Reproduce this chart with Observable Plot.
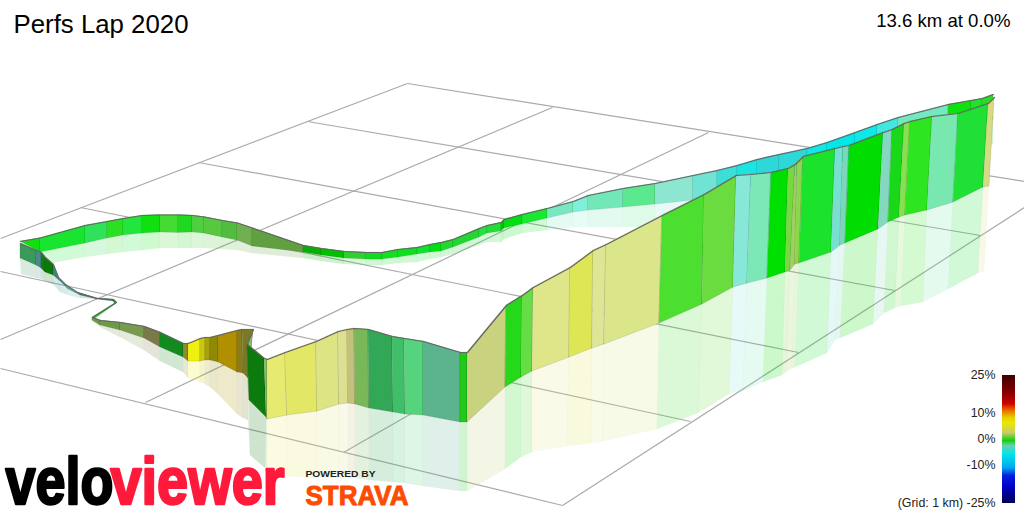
<!DOCTYPE html>
<html>
<head>
<meta charset="utf-8">
<script src="https://cdn.jsdelivr.net/npm/d3@7"></script>
<script src="https://cdn.jsdelivr.net/npm/@observablehq/plot@0.6"></script>
<style>html,body{margin:0;padding:0;background:#fff}svg{display:block}</style>
</head>
<body>
<div id="chart"></div>
<script>
// Grid lines as seen in the picture
const gridX1 = [407, 307, 198, 80, 0, 0, 0, 0, 145, 343, 562];
const gridY1 = [83, 121, 162, 207, 271, 368, 238, 339, 402, 452, 505];
const gridX2 = [1024, 980, 894, 798, 690, 562, 407, 552, 708, 860, 1024];
const gridY2 = [181, 235, 290, 352, 421, 505, 83, 107, 132, 156, 207];

// Far ribbon of the route
const backX = [20, 40, 85, 107, 123, 142, 160, 178, 192, 204, 222, 237, 252, 303, 321, 344, 366, 382, 398, 417, 430, 441, 453, 479, 487, 501, 504, 522, 547, 573, 588, 623, 655, 693, 717, 737, 757, 779, 807, 827, 855, 877, 898, 948, 971, 982, 993];
const backTop = [241, 237.5, 225, 221, 218, 215, 214.5, 214.5, 215, 216.5, 220, 222.5, 227.5, 245, 248, 251, 252, 252, 249, 247, 244, 242, 239, 228, 225, 222, 219, 214, 208, 201, 195, 188, 183, 175, 170, 165, 159, 154, 148, 142, 132, 124, 117, 104, 100, 98, 94];
const backBase = [241, 252, 243, 238, 235, 233, 232, 232.5, 232, 233, 237, 240, 246, 252, 255, 258, 259, 259, 257, 254, 252, 251, 247, 237, 233, 231, 228, 224, 218, 212, 210, 207, 204, 200, 195, 190, 184, 179, 173, 167, 157, 149, 142, 129, 125, 123, 119];
const backShade = [241, 265, 257, 254, 252, 250, 248, 248, 248, 248, 249, 250, 253, 258, 261, 264, 265, 265, 263, 262, 259, 257, 254, 245, 242, 242, 239, 233, 230, 227, 227, 227, 227, 226, 222, 215, 209, 204, 198, 192, 182, 174, 167, 154, 150, 148, 144];
const backColors = ["#10e010", "#18e530", "#30e25a", "#2ae020", "#22e63e", "#10e010", "#44dc33", "#20d820", "#4cd040", "#58c840", "#50bc40", "#70b050", "#60a040", "#04b004", "#00c000", "#30d030", "#10dd20", "#10e020", "#0ee020", "#10e030", "#00e010", "#20d830", "#20d830", "#25e040", "#22dd33", "#00c800", "#00e010", "#18e830", "#78e8c0", "#80efd8", "#72e8b8", "#5ce890", "#8ce6d0", "#70e3d5", "#3ae0d8", "#1de3e3", "#2fd8d8", "#2dd8d8", "#0de8e8", "#00e8e8", "#10e8e8", "#40e8e0", "#75e8c0", "#0fe00f", "#25e030", "#25dd25"];

// Near wall of the route
const wallTopX = [20, 36, 41, 45, 53, 58, 65, 77, 97, 113, 116, 92, 100, 120, 144, 160, 183, 188, 200, 205, 210, 218, 237, 242, 253, 247, 264, 267, 285, 316, 338, 347, 354, 368, 392, 404, 423, 460, 467, 506, 522, 533, 570, 593, 606, 662, 704, 736, 751, 771, 788, 795, 797, 803, 835, 843, 849, 883, 892, 904, 910, 932, 958, 988, 994];
const wallTopY = [243, 250, 252, 257, 264, 277, 284, 292, 298, 299, 302, 317, 320, 322, 326, 332, 343, 343, 338, 337, 337, 335, 330, 329, 329, 344, 358, 359, 352, 341, 331, 329, 328, 329, 336, 338, 341, 352, 352, 305, 295, 287, 267, 250, 244, 215, 194, 175, 174, 172, 168, 164, 162, 156, 148, 146, 145, 132, 129, 123, 121, 116, 113, 103, 97];
const wallBaseX = [20, 36, 41, 45, 53, 60, 68, 80, 97, 113, 115, 92, 100, 120, 144, 160, 183, 188, 200, 205, 210, 218, 237, 243, 248, 249, 266, 267, 287, 317, 339, 348, 355, 369, 393, 405, 423, 460, 467, 505, 521, 532, 569, 592, 604, 659, 702, 733, 747, 767, 785, 790, 795, 799, 831, 840, 845, 878, 888, 899, 905, 927, 953, 983, 989];
const wallBaseY = [258, 265, 268, 272, 275, 281, 289, 295, 299, 301, 304, 320, 325, 330, 338, 347, 357, 361, 361, 360, 360, 362, 372, 373, 378, 400, 417, 419, 415, 411, 404, 403, 404, 408, 412, 414, 415, 422, 422, 387, 377, 371, 357, 348, 344, 323, 304, 287, 283, 278, 272, 270, 264, 263, 252, 245, 243, 229, 222, 217, 215, 210, 202, 187, 186];
const shadeX = [21, 37, 41, 46, 54, 60, 68, 80, 97, 113, 115, 92, 100, 120, 144, 160, 183, 188, 200, 205, 210, 218, 237, 243, 248, 250, 265, 267, 287, 317, 339, 348, 355, 369, 393, 405, 423, 460, 467, 505, 521, 532, 567, 591, 603, 657, 698, 729, 743, 763, 782, 786, 792, 795, 827, 835, 840, 873, 884, 895, 901, 923, 948, 978, 984];
const shadeY = [274, 278, 279, 281, 285, 292, 295, 298, 299, 301, 304, 321, 327, 337, 350, 361, 372, 378, 382, 384, 387, 394, 414, 418, 420, 455, 468, 470, 476, 478, 478, 478, 478, 480, 482, 483, 486, 491, 491, 469, 457, 452, 446, 443, 441, 429, 413, 394, 391, 382, 375, 372, 368, 367, 353, 340, 338, 324, 313, 308, 306, 302, 289, 273, 271];
const wallColors = ["#3a9a5a", "#4a8a8a", "#0f7f0f", "#0a7a0a", "#308a80", "#30a0a0", "#55b0b0", "#3a7a5a", "#3a7a5a", "#228b22", "#20d020", "#6a9a50", "#6f9a45", "#7a9a50", "#7a7a48", "#128a20", "#8f8a30", "#f0f010", "#c8c810", "#a8a010", "#8f8a05", "#b09000", "#8a7d1a", "#7a7a25", "#8cc060", "#0c7a0c", "#88c060", "#e6ea70", "#e2e866", "#dde482", "#dde090", "#c5c07a", "#78b858", "#32a755", "#3ebf68", "#55d47d", "#5cb48f", "#22c81a", "#c9d37f", "#25d81a", "#66dd44", "#dfe68a", "#dfe656", "#dde695", "#dbe68a", "#4cdf30", "#6bdc40", "#88e8d8", "#7ce8b8", "#00e000", "#78d840", "#a0d060", "#8cd84c", "#1be32b", "#78e0d0", "#78d8b8", "#00dd00", "#85d8c0", "#18d818", "#88e050", "#2de61f", "#78e8b0", "#20e035", "#d5db80"];

// Gradient legend
const rampY = [375, 393, 403, 410, 417, 422, 432, 440, 445, 453, 467, 475, 487, 503];
const rampColors = ["#400000", "#8b0000", "#d00000", "#e87000", "#e8d000", "#e8e800", "#cccc66", "#10d010", "#6cccb0", "#00e8e8", "#00a8f0", "#0020e0", "#0000c0", "#000050"];
const legendLabels = ["25%", "10%", "0%", "-10%", "(Grid: 1 km) -25%"];
const legendLabelY = [375, 413, 439, 465, 503];

const strips = (n, colors, x1, y1, x2, y2) => {
  const rows = [];
  for (let i = 0; i < n - 1; i++) {
    for (const j of [i, i + 1]) {
      rows.push({seg: i, c: colors[i], x1: x1(j), y1: y1(j), x2: x2(j), y2: y2(j)});
    }
  }
  return rows;
};
const backShadeRows = strips(backX.length, backColors, i => backX[i], i => backBase[i], i => backX[i], i => backShade[i]);
const backRows = strips(backX.length, backColors, i => backX[i], i => backTop[i], i => backX[i], i => backBase[i]);
const wallShadeRows = strips(wallTopX.length, wallColors, i => wallBaseX[i], i => wallBaseY[i], i => shadeX[i], i => shadeY[i]);
const wallRows = strips(wallTopX.length, wallColors, i => wallTopX[i], i => wallTopY[i], i => wallBaseX[i], i => wallBaseY[i]);

const area = (rows, fillOpacity, strokeOpacity) => Plot.area(rows, {
  x1: "x1", y1: "y1", x2: "x2", y2: "y2", z: "seg",
  fill: {value: "c", scale: null}, fillOpacity,
  stroke: "#000", strokeOpacity, strokeWidth: 0.8
});
const idx = a => a.map((_, i) => i);
const label = (text, x, y, opts) => Plot.text([text], {x: () => x, y: () => y, text: d => d, lineAnchor: "middle", fontFamily: "Liberation Sans", ...opts});

const svg = Plot.plot({
  width: 1024, height: 512,
  marginTop: 0, marginRight: 0, marginBottom: 0, marginLeft: 0,
  x: {domain: [0, 1024], range: [0, 1024], axis: null},
  y: {domain: [0, 512], range: [0, 512], axis: null},
  color: {type: "linear", domain: rampY, range: rampColors, legend: false},
  style: {background: "#fff"},
  marks: [
    Plot.link(idx(gridX1), {
      x1: i => gridX1[i], y1: i => gridY1[i], x2: i => gridX2[i], y2: i => gridY2[i],
      stroke: "#aaa", strokeWidth: 1.2
    }),
    area(backShadeRows, 0.2, 0.02),
    area(wallShadeRows, 0.2, 0.02),
    area(backRows, 1, 0.1),
    Plot.line(idx(backX), {x: i => backX[i], y: i => backTop[i], stroke: "#666", strokeWidth: 1.2}),
    area(wallRows, 1, 0.13),
    Plot.line(idx(wallTopX), {x: i => wallTopX[i], y: i => wallTopY[i], stroke: "#666", strokeWidth: 1.2}),
    Plot.rect(d3.range(375, 503), {
      x1: () => 1002, x2: () => 1015, y1: d => d, y2: d => d + 1,
      fill: d => d, shapeRendering: "crispEdges"
    }),
    Plot.text(legendLabels, {
      x: () => 995, y: (d, i) => legendLabelY[i], text: d => d,
      textAnchor: "end", lineAnchor: "middle", fontSize: 12.4, fill: "#222", fontFamily: "Liberation Sans"
    }),
    label("Perfs Lap 2020", 13, 24, {textAnchor: "start", fontSize: 25.8, fill: "#000"}),
    label("13.6 km at 0.0%", 1010, 21, {textAnchor: "end", fontSize: 18.6, fill: "#000"}),
    label("velo", 5, 503, {textAnchor: "start", lineAnchor: "bottom", fontSize: 66, fontWeight: 700, fill: "#000", stroke: "#000", strokeWidth: 2.5}),
    label("viewer", 110, 503, {textAnchor: "start", lineAnchor: "bottom", fontSize: 66, fontWeight: 700, fill: "#ff1a3c", stroke: "#ff1a3c", strokeWidth: 2.5}),
    label("POWERED BY", 305, 473, {textAnchor: "start", fontSize: 9.5, fontWeight: 700, fill: "#222"}),
    label("STRAVA", 305, 504, {textAnchor: "start", lineAnchor: "bottom", fontSize: 28, fontWeight: 700, fill: "#fc4c02", stroke: "#fc4c02", strokeWidth: 1})
  ]
});
const fit = (content, len) => d3.select(svg).selectAll("text")
  .filter(function () { return this.textContent === content; })
  .attr("textLength", len).attr("lengthAdjust", "spacingAndGlyphs");
fit("velo", 108);
fit("viewer", 174);
fit("POWERED BY", 70);
fit("STRAVA", 103);
document.getElementById("chart").append(svg);
</script>
</body>
</html>
